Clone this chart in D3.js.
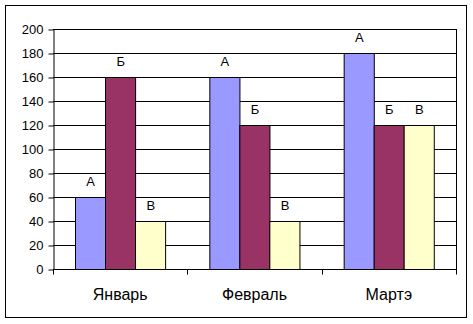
<!DOCTYPE html>
<html>
<head>
<meta charset="utf-8">
<script src="https://cdn.jsdelivr.net/npm/d3@7"></script>
<style>
  html, body { margin: 0; padding: 0; background: #fff; }
  svg { display: block; font-family: "Liberation Sans", Arial, sans-serif; }
</style>
</head>
<body>
<svg id="chart" width="473" height="324"></svg>
<script>
// Monthly values for three series
const months = ["Январь", "Февраль", "Мартэ"];
const seriesNames = ["А", "Б", "В"];
const seriesA = [60, 160, 180];
const seriesB = [160, 120, 120];
const seriesV = [40, 40, 120];
const seriesColors = ["#9999ff", "#993366", "#ffffcc"];
const yTicks = [0, 20, 40, 60, 80, 100, 120, 140, 160, 180, 200];

const values = [seriesA, seriesB, seriesV];

const svg = d3.select("#chart");
const plot = { left: 53, right: 456, top: 29, bottom: 269 };

// Outer chart frame
svg.append("rect")
  .attr("x", 5.5).attr("y", 5.5)
  .attr("width", 461).attr("height", 312)
  .attr("fill", "#fff").attr("stroke", "#000").attr("stroke-width", 1);

const x0 = d3.scaleBand().domain(months).range([plot.left, plot.right]).paddingInner(0).paddingOuter(0);
const groupPad = 22;
const x1 = d3.scaleBand().domain(seriesNames)
  .range([groupPad, x0.bandwidth() - groupPad]).padding(0);
const y = d3.scaleLinear().domain([0, 200]).range([plot.bottom, plot.top]);

// Horizontal gridlines
svg.append("g").selectAll("line").data(yTicks.filter(t => t > 0)).join("line")
  .attr("x1", plot.left).attr("x2", plot.right)
  .attr("y1", d => Math.round(y(d)) + 0.5).attr("y2", d => Math.round(y(d)) + 0.5)
  .attr("stroke", "#000").attr("stroke-width", 1);

// Right edge of plot area
svg.append("line")
  .attr("x1", plot.right + 0.5).attr("x2", plot.right + 0.5)
  .attr("y1", plot.top).attr("y2", plot.bottom)
  .attr("stroke", "#000");

// Bars
const groups = svg.append("g").selectAll("g").data(months).join("g")
  .attr("transform", d => `translate(${x0(d)},0)`);

groups.selectAll("rect")
  .data((m, i) => seriesNames.map((s, j) => ({ s, j, v: values[j][i] })))
  .join("rect")
  .attr("x", d => Math.round(x1(d.s)) + 0.5)
  .attr("y", d => Math.round(y(d.v)) + 0.5)
  .attr("width", x1.bandwidth())
  .attr("height", d => Math.round(y(0)) - Math.round(y(d.v)))
  .attr("fill", d => seriesColors[d.j])
  .attr("stroke", "#000").attr("stroke-width", 1);

// Series name labels above bars
groups.selectAll("text")
  .data((m, i) => seriesNames.map((s, j) => ({ s, j, v: values[j][i] })))
  .join("text")
  .attr("x", d => x1(d.s) + x1.bandwidth() / 2 + 0.5)
  .attr("y", d => y(d.v) - 11)
  .attr("text-anchor", "middle")
  .attr("font-size", 13)
  .text(d => d.s);

// Y axis
const yAxis = svg.append("g")
  .attr("transform", `translate(${plot.left + 0.5},0.5)`)
  .call(d3.axisLeft(y).tickValues(yTicks).tickSize(5).tickPadding(5).tickSizeOuter(0));
yAxis.select(".domain").attr("stroke", "#000");
yAxis.selectAll("line").attr("stroke", "#000");
yAxis.selectAll("text").attr("font-size", 13).attr("fill", "#000")
  .attr("font-family", "Liberation Sans, Arial, sans-serif");

// X axis with ticks at category boundaries
const xAxisG = svg.append("g").attr("transform", `translate(0,${plot.bottom + 0.5})`);
xAxisG.append("line")
  .attr("x1", plot.left).attr("x2", plot.right + 1)
  .attr("stroke", "#000");
const boundaries = months.map(m => x0(m)).concat([plot.right]);
xAxisG.selectAll("line.tick").data(boundaries).join("line")
  .attr("class", "tick")
  .attr("x1", d => Math.round(d) + 0.5).attr("x2", d => Math.round(d) + 0.5)
  .attr("y1", 0).attr("y2", 5)
  .attr("stroke", "#000");
xAxisG.selectAll("text").data(months).join("text")
  .attr("x", d => x0(d) + x0.bandwidth() / 2)
  .attr("y", 30.5)
  .attr("text-anchor", "middle")
  .attr("font-size", 16)
  .text(d => d);
</script>
</body>
</html>
